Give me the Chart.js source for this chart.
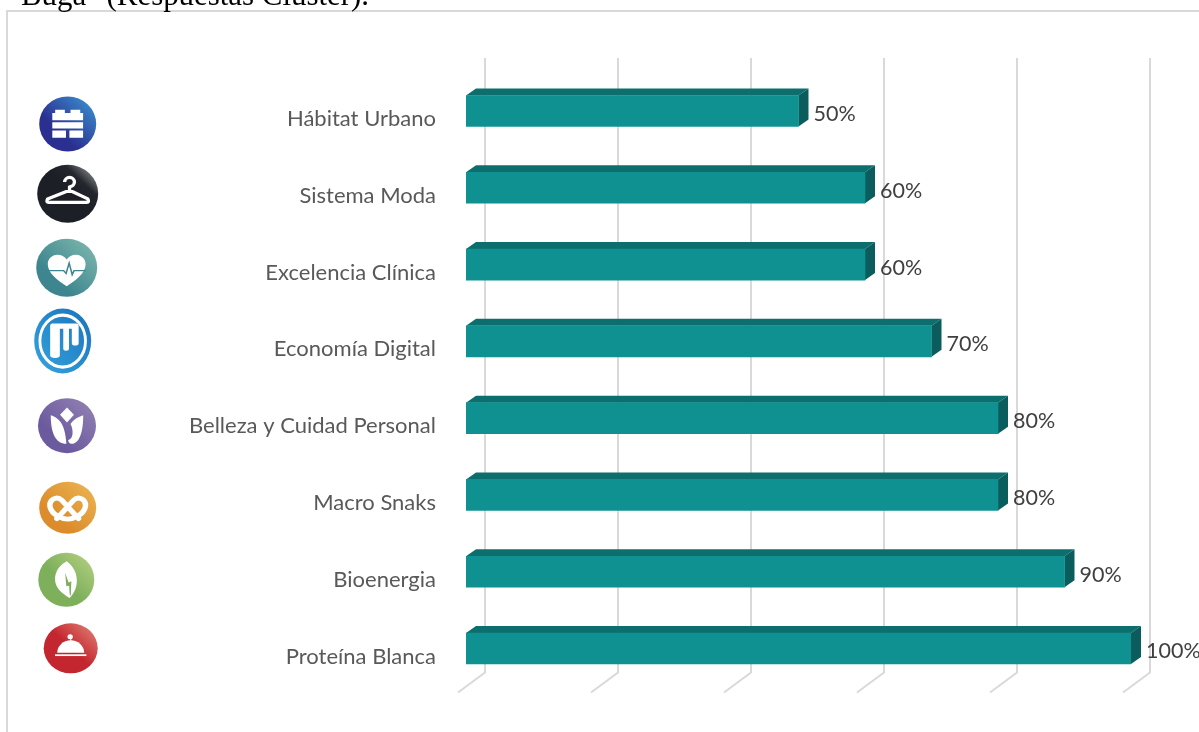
<!DOCTYPE html>
<html>
<head>
<meta charset="utf-8">
<script src="https://cdn.jsdelivr.net/npm/chart.js@4"></script>
<style>
    body { margin: 0; background: #fff; overflow: hidden; }
    #wrap { position: relative; width: 1199px; height: 732px; overflow: hidden; }
    #barChart { position: absolute; left: 0; top: 0; }
    #heading { position: absolute; left: 21px; top: -23px; font: 30.9px/36px "Liberation Serif", serif; color: #000; white-space: nowrap; }
    #icons { position: absolute; left: 0; top: 0; }
</style>
</head>
<body>
<div id="wrap">
    <canvas id="barChart" width="1199" height="732"></canvas>
    <div id="heading">Buga" (Respuestas Cluster).</div>
    <svg id="icons" width="1199" height="732" viewBox="0 0 1199 732">
        <defs>
            <linearGradient id="gBlue" x1="0" y1="1" x2="1" y2="0"><stop offset="0.35" stop-color="#2b3090"/><stop offset="1" stop-color="#3b9ad6"/></linearGradient>
            <linearGradient id="gBlack" x1="0" y1="1" x2="1" y2="0"><stop offset="0.55" stop-color="#1c1f25"/><stop offset="0.72" stop-color="#23262c"/><stop offset="1" stop-color="#b5b7ba"/></linearGradient>
            <linearGradient id="gTeal" x1="0" y1="1" x2="1" y2="0"><stop offset="0.3" stop-color="#3d868f"/><stop offset="1" stop-color="#84bcb0"/></linearGradient>
            <linearGradient id="gSky" x1="0" y1="1" x2="1" y2="0"><stop offset="0" stop-color="#35a4e0"/><stop offset="1" stop-color="#1a72b8"/></linearGradient>
            <linearGradient id="gPurple" x1="0" y1="1" x2="1" y2="0"><stop offset="0.3" stop-color="#6c5a9f"/><stop offset="1" stop-color="#9485b5"/></linearGradient>
            <linearGradient id="gOrange" x1="0" y1="1" x2="1" y2="0"><stop offset="0.3" stop-color="#dc8c2c"/><stop offset="0.85" stop-color="#e9ae4c"/><stop offset="1" stop-color="#f3d040"/></linearGradient>
            <linearGradient id="gGreen" x1="0" y1="1" x2="1" y2="0"><stop offset="0.45" stop-color="#7eb05c"/><stop offset="1" stop-color="#b9d384"/></linearGradient>
            <linearGradient id="gRed" x1="0" y1="1" x2="1" y2="0"><stop offset="0.5" stop-color="#c4262f"/><stop offset="1" stop-color="#e2897a"/></linearGradient>
        </defs>
        <g transform="translate(67.7,124) scale(.57,.55)">
            <circle r="50" fill="url(#gBlue)"/>
            <path fill="#fff" d="M-27,-7V-20H-22V-26H-5V-20H5V-26H22V-20H27V-7ZM-27,-3H27V8H-27ZM-27,12H-3V25H-27ZM3,12H27V25H3Z"/>
        </g>
        <g transform="translate(67.7,193.7) scale(.61,.58)">
            <circle r="50" fill="url(#gBlack)"/>
            <path fill="none" stroke="#fff" stroke-width="5.5" stroke-linejoin="round" d="M-5,-20A8,8 0 1 1 3,-12V-6L33,9Q36,15 31,15H-31Q-36,15 -33,9L3,-6"/>
        </g>
        <g transform="translate(66.7,267.7) scale(.61,.58)">
            <circle r="50" fill="url(#gTeal)"/>
            <path fill="#fff" d="M0,32C-14,22-31,10-31,-6C-31,-24-8,-28 0,-14C8,-28 31,-24 31,-6C31,10 14,22 0,32Z"/>
            <path fill="none" stroke="#3d868f" stroke-width="2.5" d="M-31,5H-5L-1,10L4,-8L9,12L12,5H31"/>
        </g>
        <g transform="translate(62.7,341) scale(.57,.65)">
            <circle r="50" fill="url(#gSky)"/>
            <circle r="40" fill="none" stroke="#fff" stroke-width="5"/>
            <path fill="#fff" d="M-22,-23Q-22,-27 -18,-27H24Q28,-27 28,-23V3Q28,7 22,7Q16,7 16,3V-19H11V12Q11,15 6,15Q1,15 1,12V-19H-5V22Q-5,26 -13,26Q-22,26 -22,22Z"/>
        </g>
        <g transform="translate(67,425.7) scale(.58,.55)">
            <circle r="50" fill="url(#gPurple)"/>
            <path fill="#fff" d="M0,-33L12,-20L0,-6L-12,-20ZM-28,-19C-13,-14-3,-2-1,33C-20,33-28,12-28,-19ZM28,-19C28,10 22,33 8,33C4,33 2,29 2,26C12,24 11,6 6,-3C11,-11 19,-16 28,-19Z"/>
        </g>
        <g transform="translate(67.7,507.7) scale(.57,.52)">
            <circle r="50" fill="url(#gOrange)"/>
            <path fill="none" stroke="#fff" stroke-width="9.5" stroke-linecap="round" d="M19,21L-10,-14C-20,-25-33,-14-31,-2C-28,14-10,22 0,22C10,22 28,14 31,-2C33,-14 20,-25 10,-14L-19,21"/>
        </g>
        <g transform="translate(66.3,579.7) scale(.56,.54)">
            <circle r="50" fill="url(#gGreen)"/>
            <path fill="#fff" d="M1,-34C24,-16 24,16 6,34C-6,26-22,16-20,-5C-18,-19-9,-29 1,-34Z"/>
            <path fill="#7eb05c" d="M-2,-13L4,5L9,3L8,30L6,27L5,11L0,12Z"/>
        </g>
        <g transform="translate(70.7,648.3) scale(.54,.5)">
            <circle r="50" fill="url(#gRed)"/>
            <path fill="#fff" d="M-25,9A25,25 0 0 1 25,9Z"/>
            <circle cx="-1" cy="-23" r="5" fill="#fff"/>
            <rect x="-1" y="-20" width="2" height="6" fill="#fff"/>
            <rect x="-29" y="12" width="58" height="3.5" fill="#fff"/>
        </g>
    </svg>
</div>
<script>
const categories = ['Hábitat Urbano', 'Sistema Moda', 'Excelencia Clínica', 'Economía Digital',
    'Belleza y Cuidad Personal', 'Macro Snaks', 'Bioenergia', 'Proteína Blanca'];
const values = [50, 60, 60, 70, 80, 80, 90, 100];
const axisTicks = [0, 20, 40, 60, 80, 100];

// fake 3d: offset of the back of each bar and of the back wall
const depthX = 10, depthY = 7;
const wallX = 19, wallTop = 58, wallBottom = 672.5;

function poly(ctx, pts, color) {
    ctx.fillStyle = color;
    ctx.beginPath();
    pts.forEach((p, i) => i ? ctx.lineTo(p[0], p[1]) : ctx.moveTo(p[0], p[1]));
    ctx.closePath();
    ctx.fill();
}

const frame3d = {
    id: 'frame3d',
    beforeDraw(chart) {
        const ctx = chart.ctx;
        ctx.save();
        ctx.strokeStyle = '#d9d9d9';
        ctx.lineWidth = 2;
        ctx.beginPath();
        ctx.moveTo(7, 732);
        ctx.lineTo(7, 11);
        ctx.lineTo(1199, 11);
        ctx.stroke();
        ctx.restore();
    },
    beforeDatasetsDraw(chart) {
        const ctx = chart.ctx, x = chart.scales.x;
        ctx.save();
        ctx.strokeStyle = '#d9d9d9';
        ctx.lineWidth = 2;
        axisTicks.forEach(t => {
            const px = x.getPixelForValue(t) + wallX;
            ctx.beginPath();
            ctx.moveTo(px, wallTop);
            ctx.lineTo(px, wallBottom);
            ctx.lineTo(px - 27, wallBottom + 20);
            ctx.stroke();
        });
        chart.getDatasetMeta(0).data.forEach(bar => {
            const top = bar.y - bar.height / 2, bottom = bar.y + bar.height / 2;
            poly(ctx, [[bar.base, top], [bar.base + depthX, top - depthY], [bar.x + depthX, top - depthY], [bar.x, top]], '#0c6f6e');
            poly(ctx, [[bar.x, top], [bar.x + depthX, top - depthY], [bar.x + depthX, bottom - depthY], [bar.x, bottom]], '#0a5d5c');
        });
        ctx.restore();
    },
    afterDatasetsDraw(chart) {
        const ctx = chart.ctx;
        ctx.save();
        ctx.font = '21.5px Lato';
        ctx.fillStyle = '#404040';
        ctx.textBaseline = 'middle';
        chart.getDatasetMeta(0).data.forEach((bar, i) => {
            ctx.fillText(values[i] + '%', bar.x + 15, bar.y + 3);
        });
        ctx.restore();
    }
};

new Chart(document.getElementById('barChart'), {
    type: 'bar',
    data: {
        labels: categories,
        datasets: [{
            data: values,
            backgroundColor: '#0e9190',
            barThickness: 31
        }]
    },
    options: {
        indexAxis: 'y',
        responsive: false,
        animation: false,
        layout: { padding: { top: 72.6, bottom: 45.1, right: 68, left: 0 } },
        plugins: { legend: { display: false }, tooltip: { enabled: false } },
        scales: {
            x: {
                min: 0,
                max: 100,
                afterFit(scale) { scale.height = 0; },
                ticks: { display: false, stepSize: 20 },
                grid: { display: false },
                border: { display: false }
            },
            y: {
                afterFit(scale) { scale.width = 466; },
                ticks: {
                    color: '#595959',
                    font: { family: 'Lato', size: 22 },
                    padding: 30,
                    labelOffset: 8
                },
                grid: { display: false, drawTicks: false },
                border: { display: false }
            }
        }
    },
    plugins: [frame3d]
});
</script>
</body>
</html>
